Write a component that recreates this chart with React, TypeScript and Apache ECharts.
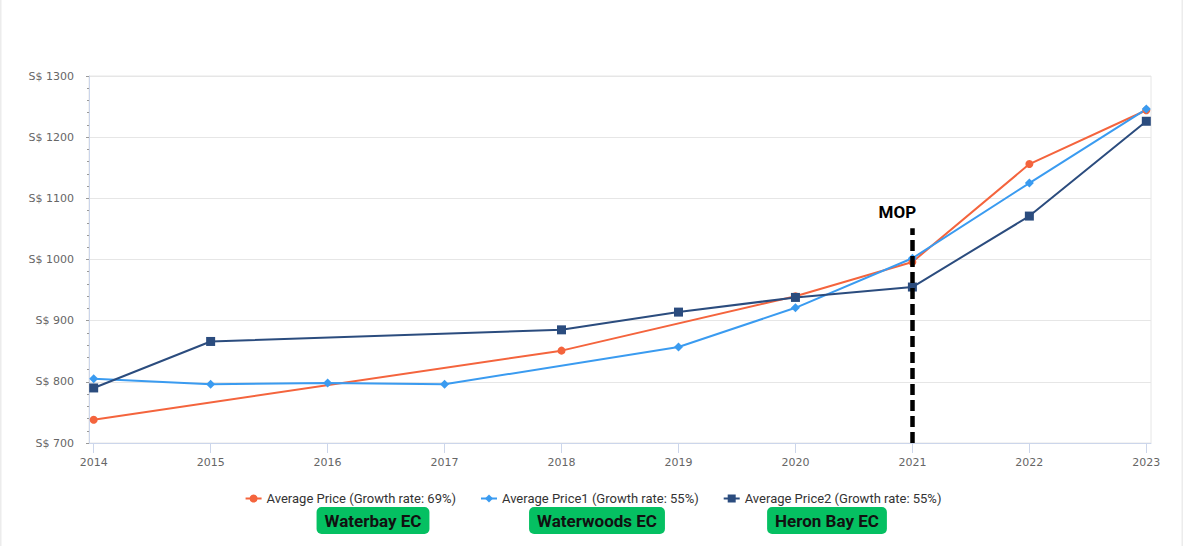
import { useEffect, useRef } from "react";
import * as echarts from "echarts";

const years = [2014, 2015, 2016, 2017, 2018, 2019, 2020, 2021, 2022, 2023];
const averagePrice = [738, null, null, null, 851, null, 940, 996, 1156, 1244];
const averagePrice1 = [805, 796, 798, 796, null, 857, 921, 1002, 1125, 1246];
const averagePrice2 = [790, 866, null, null, 885, 914, 938, 955, 1071, 1226];

const seriesNames = [
  "Average Price (Growth rate: 69%)",
  "Average Price1 (Growth rate: 55%)",
  "Average Price2 (Growth rate: 55%)",
];
const projectNames = ["Waterbay EC", "Waterwoods EC", "Heron Bay EC"];
const projectCenters = [373, 597, 827];

const mopYear = 2021;
const mopTop = 1051;

const colors = ["#f4643d", "#3a9bf0", "#2b4c7e"];

function pairs(values: (number | null)[]): [number, number | null][] {
  return years.map((y, i) => [y, values[i]]);
}

export default function App() {
  const ref = useRef<HTMLDivElement | null>(null);

  useEffect(() => {
    if (!ref.current) return;
    const chart = echarts.init(ref.current, undefined, { renderer: "svg" });

    const axisFont = "DejaVu Sans";

    chart.setOption({
      animation: false,
      color: colors,
      grid: {
        left: 89,
        right: 35,
        top: 76,
        bottom: 103,
        show: true,
        borderColor: "#e6e6e6",
        borderWidth: 1,
      },
      legend: {
        left: "center",
        top: 487,
        itemWidth: 16,
        itemHeight: 10,
        itemGap: 24,
        textStyle: { fontSize: 13, color: "#333", fontFamily: "Roboto" },
        data: seriesNames,
      },
      xAxis: {
        type: "value",
        min: 2013.96,
        max: 2023.04,
        axisLine: { show: true, lineStyle: { color: "#ccd6eb" } },
        axisTick: {
          show: true,
          length: 10,
          customValues: years,
          lineStyle: { color: "#ccd6eb" },
        },
        axisLabel: {
          customValues: years,
          margin: 14,
          color: "#666",
          fontSize: 11,
          fontFamily: axisFont,
          formatter: (v: number) => String(v),
        },
        splitLine: { show: false },
      },
      yAxis: {
        type: "value",
        min: 700,
        max: 1300,
        interval: 100,
        axisLine: { show: true, lineStyle: { color: "#ccd6eb" } },
        axisTick: { show: true, length: 3, lineStyle: { color: "#999" } },
        minorTick: { show: true, splitNumber: 5, length: 2, lineStyle: { color: "#999" } },
        axisLabel: {
          margin: 15,
          color: "#666",
          fontSize: 11,
          fontFamily: axisFont,
          formatter: (v: number) => `S$ ${v}`,
        },
        splitLine: { lineStyle: { color: "#e6e6e6" } },
      },
      series: [
        {
          name: seriesNames[0],
          type: "line",
          data: pairs(averagePrice),
          connectNulls: true,
          symbol: "circle",
          symbolSize: 8,
          lineStyle: { width: 2 },
          markLine: {
            silent: true,
            symbol: ["none", "none"],
            lineStyle: { color: "#000", width: 4.5, type: [11, 5] },
            label: {
              show: true,
              position: "end",
              formatter: "MOP",
              color: "#000",
              fontWeight: "bold",
              fontSize: 17,
              fontFamily: "Roboto",
              backgroundColor: "#fff",
              padding: [3, 7],
              distance: 5,
              offset: [-15, 0],
            },
            data: [[{ coord: [mopYear, 700] }, { coord: [mopYear, mopTop] }]],
          },
        },
        {
          name: seriesNames[1],
          type: "line",
          data: pairs(averagePrice1),
          connectNulls: true,
          symbol: "diamond",
          symbolSize: 9,
          lineStyle: { width: 2 },
        },
        {
          name: seriesNames[2],
          type: "line",
          data: pairs(averagePrice2),
          connectNulls: true,
          symbol: "rect",
          symbolSize: 9,
          lineStyle: { width: 2 },
        },
      ],
      graphic: [
        { type: "rect", shape: { x: 0, y: 0, width: 1.5, height: 546 }, style: { fill: "#ececec" } },
        { type: "rect", shape: { x: 1181.5, y: 0, width: 1.5, height: 546 }, style: { fill: "#ececec" } },
        ...projectNames.map((name, i) => ({
          type: "text",
          x: projectCenters[i],
          y: 520.5,
          style: {
            text: name,
            align: "center",
            verticalAlign: "middle",
            fill: "#111",
            font: "bold 17px Roboto",
            backgroundColor: "#05c062",
            borderRadius: 5,
            padding: [5, 8, 5, 8],
            lineHeight: 17,
          },
        })),
      ],
    });

    return () => chart.dispose();
  }, []);

  return (
    <div
      ref={ref}
      style={{ position: "absolute", left: 0, top: 0, width: 1186, height: 546, background: "#fff" }}
    />
  );
}
